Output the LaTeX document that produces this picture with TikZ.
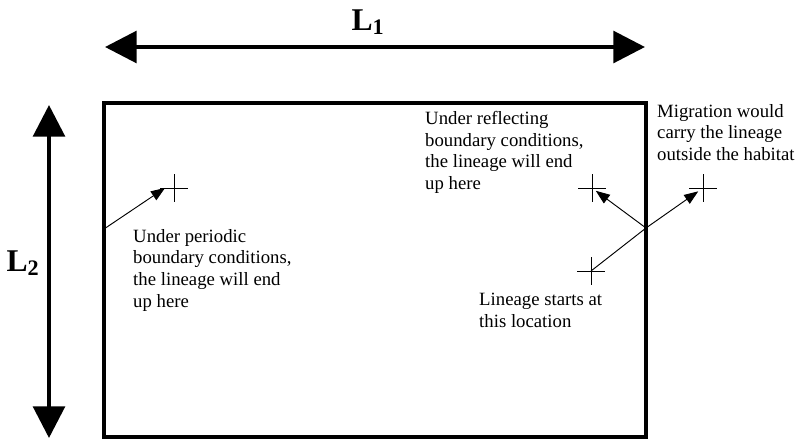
\documentclass[tikz,border=0pt]{standalone}
\usepackage{fontspec}
\setmainfont{Liberation Serif}
\usetikzlibrary{arrows.meta,calc}

\begin{document}
\begin{tikzpicture}[x=0.03cm,y=-0.03cm,
        dim/.style={line width=3.4pt,{Triangle[length=27pt,width=27pt]}-{Triangle[length=27pt,width=27pt]}},
        move/.style={line width=0.8pt,-{Triangle[length=12pt,width=9pt]}},
        mark line/.style={line width=0.8pt},
        note/.style={inner sep=0pt,anchor=north west,align=left,font=\fontsize{16pt}{18.5pt}\selectfont},
        dimlabel/.style={inner sep=0pt,font=\fontsize{27pt}{32pt}\selectfont\bfseries}]
        \useasboundingbox (0,0) rectangle (799,442);

        % habitat
        \node[draw,line width=2.6pt,inner sep=0pt,minimum width=16.26cm,minimum height=10.02cm] (habitat) at (375,270) {};

        % dimensions
        \coordinate (L1west) at (105,47);
        \coordinate (L1east) at (645,47);
        \coordinate (L2north) at (49,105);
        \coordinate (L2south) at (49,438);
        \draw[dim] (L1west) -- (L1east);
        \draw[dim] (L2north) -- (L2south);
        \node[dimlabel] (L1) at (368,22) {L\textsubscript{1}};
        \node[dimlabel] (L2) at (23,263) {L\textsubscript{2}};

        % locations
        \coordinate (periodic) at (174,188);
        \coordinate (reflect) at (592,188);
        \coordinate (outside) at (703,188);
        \coordinate (start) at (591,271);
        \coordinate (exit) at (646,228);
        \coordinate (wrapin) at (104,229);
        \foreach \c in {periodic,reflect,outside,start}
            \draw[mark line] ($(\c)+(-14,0)$) -- ($(\c)+(14,0)$) ($(\c)+(0,-14)$) -- ($(\c)+(0,14)$);

        \draw[move,shorten >=5pt] (start) -- (exit) -- (outside);
        \draw[move,shorten >=4pt] (exit) -- (reflect);
        \draw[move] (wrapin) -- ($(periodic)+(-9,0)$);

        % notes
        \node[note] (periodictext) at (133,229) {Under periodic\\boundary conditions,\\the lineage will end\\up here};
        \node[note] (reflecttext) at (425,111) {Under reflecting\\boundary conditions,\\the lineage will end\\up here};
        \node[note] (outsidetext) at (657,104) {Migration would\\carry the lineage\\outside the habitat};
        \node[note] (starttext) at (479,293) {Lineage starts at\\this location};
\end{tikzpicture}
\end{document}
